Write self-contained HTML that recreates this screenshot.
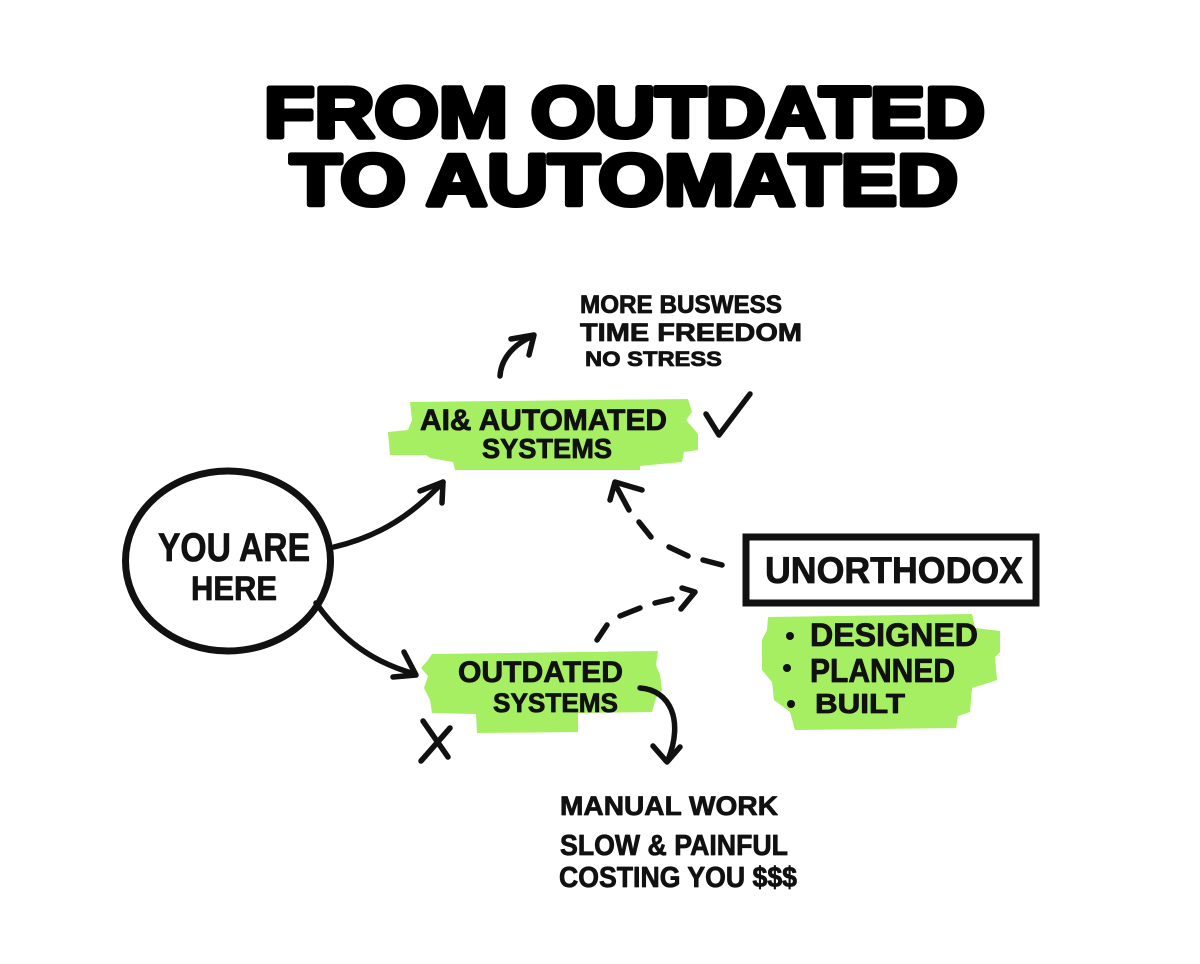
<!DOCTYPE html>
<html>
<head>
<meta charset="utf-8">
<style>
  html,body{margin:0;padding:0;background:#fff;}
  body{width:1200px;height:964px;overflow:hidden;}
  svg{display:block;}
  .t{font-family:"Liberation Sans",sans-serif;font-weight:bold;fill:#000;stroke:#000;stroke-width:5;stroke-linejoin:round;}
  .h{font-family:"Liberation Sans",sans-serif;font-weight:bold;fill:#111;stroke:#111;stroke-width:0.8;stroke-linejoin:round;}
  .ln{fill:none;stroke:#111;stroke-width:5.5;stroke-linecap:round;stroke-linejoin:round;}
</style>
</head>
<body>
<svg width="1200" height="964" viewBox="0 0 1200 964" xmlns="http://www.w3.org/2000/svg">
  <rect width="1200" height="964" fill="#fff"/>

  <!-- Title -->
  <text class="t" x="264" y="137" font-size="71" textLength="721" lengthAdjust="spacingAndGlyphs">FROM OUTDATED</text>
  <text class="t" x="290" y="205" font-size="72" textLength="668" lengthAdjust="spacingAndGlyphs">TO AUTOMATED</text>

  <!-- Green highlights -->
  <path fill="#a6ee62" d="M410,402 L688,399 L692,412 L686,420 L693,428 L698,434 L698,450 L684,452 L682,462 L640,466 L640,470 L455,470 L453,462 L430,458 L426,455 L390,455 L388,432 L408,430 L412,420 Z"/>
  <path fill="#a6ee62" d="M432,654 L658,651 L656,665 L660,675 L662,690 L656,698 L652,712 L578,713 L578,732 L477,733 L476,714 L432,713 L430,700 L424,688 L428,676 L421,668 L428,660 Z"/>
  <path fill="#a6ee62" d="M768,617 L972,614 L975,628 L1000,631 L1000,652 L995,657 L997,680 L985,684 L972,688 L970,712 L958,716 L956,728 L795,730 L790,712 L774,700 L772,682 L762,670 L762,640 L767,630 Z"/>

  <!-- Top notes -->
  <text class="h" x="580" y="313" font-size="25" textLength="202" lengthAdjust="spacingAndGlyphs">MORE BUSWESS</text>
  <text class="h" x="580" y="341" font-size="25" textLength="222" lengthAdjust="spacingAndGlyphs">TIME FREEDOM</text>
  <text class="h" x="585" y="366" font-size="21" textLength="137" lengthAdjust="spacingAndGlyphs">NO STRESS</text>

  <!-- up arrow -->
  <path class="ln" d="M500,376 C501,360 512,345 533,336"/>
  <path class="ln" d="M511,339 L534,335 L529,355"/>

  <!-- AI automated -->
  <text class="h" x="420" y="430" font-size="30" textLength="247" lengthAdjust="spacingAndGlyphs">AI&amp; AUTOMATED</text>
  <text class="h" x="482" y="458" font-size="28" textLength="130" lengthAdjust="spacingAndGlyphs">SYSTEMS</text>

  <!-- checkmark -->
  <path class="ln" stroke-width="6" d="M706,414 L719,435 L750,394"/>

  <!-- Circle -->
  <ellipse cx="228" cy="561" rx="102.5" ry="90" fill="none" stroke="#111" stroke-width="7"/>
  <text class="h" x="158" y="561" font-size="40" textLength="152" lengthAdjust="spacingAndGlyphs">YOU ARE</text>
  <text class="h" x="191" y="600" font-size="34" textLength="86" lengthAdjust="spacingAndGlyphs">HERE</text>

  <!-- circle -> AI -->
  <path class="ln" d="M334,547 C380,536 412,515 443,482"/>
  <path class="ln" d="M420,491 L443,482 L442,503"/>

  <!-- circle -> outdated -->
  <path class="ln" d="M316,603 C342,640 372,662 415,674"/>
  <path class="ln" d="M404,652 L416,675 L393,677"/>

  <!-- Outdated -->
  <text class="h" x="458" y="682" font-size="30" textLength="165" lengthAdjust="spacingAndGlyphs">OUTDATED</text>
  <text class="h" x="493" y="712" font-size="27" textLength="125" lengthAdjust="spacingAndGlyphs">SYSTEMS</text>

  <!-- X -->
  <path class="ln" d="M423,721 L448,757 M450,728 L421,761"/>

  <!-- outdated -> down -->
  <path class="ln" d="M640,688 C670,690 684,720 668,760"/>
  <path class="ln" d="M653,746 L667,762 L680,747"/>

  <!-- dashed lower -->
  <path class="ln" d="M597,640 L607,625 M620,616 L640,608 M655,603 L672,599"/>
  <path class="ln" d="M682,588 L695,592 L681,609"/>

  <!-- dashed upper -->
  <path class="ln" d="M722,565 L703,560 M688,556 L669,547 M651,537 L639,522 M629,510 L615,484"/>
  <path class="ln" d="M610,500 L615,482 L642,490"/>

  <!-- Unorthodox box -->
  <rect x="746" y="537" width="290" height="66" fill="none" stroke="#111" stroke-width="7"/>
  <text class="h" x="765" y="583" font-size="37" textLength="258" lengthAdjust="spacingAndGlyphs">UNORTHODOX</text>

  <!-- list -->
  <circle cx="790" cy="636" r="4" fill="#111"/>
  <circle cx="787" cy="668" r="4" fill="#111"/>
  <circle cx="791" cy="704" r="4" fill="#111"/>
  <text class="h" x="810" y="646" font-size="32" textLength="168" lengthAdjust="spacingAndGlyphs">DESIGNED</text>
  <text class="h" x="810" y="682" font-size="33" textLength="145" lengthAdjust="spacingAndGlyphs">PLANNED</text>
  <text class="h" x="815" y="713" font-size="28" textLength="90" lengthAdjust="spacingAndGlyphs">BUILT</text>

  <!-- bottom notes -->
  <text class="h" x="560" y="815" font-size="27" textLength="218" lengthAdjust="spacingAndGlyphs">MANUAL WORK</text>
  <text class="h" x="560" y="855" font-size="29" textLength="228" lengthAdjust="spacingAndGlyphs">SLOW &amp; PAINFUL</text>
  <text class="h" x="559" y="887" font-size="29" textLength="238" lengthAdjust="spacingAndGlyphs">COSTING YOU $$$</text>
</svg>
</body>
</html>
